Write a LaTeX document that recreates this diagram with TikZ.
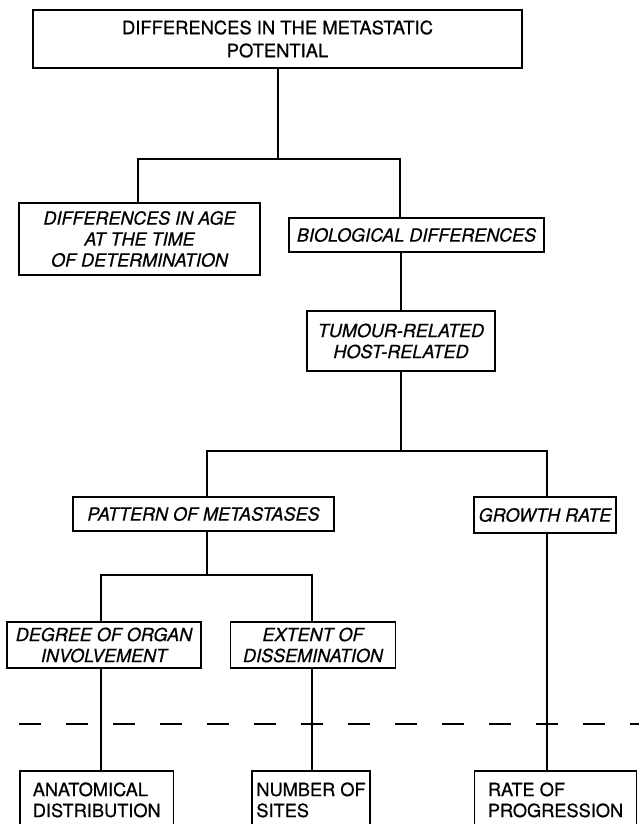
\documentclass[tikz,border=0pt]{standalone}
\usepackage{fontspec}
\setmainfont{TeX Gyre Heros}[FakeBold=0.6]
\tikzset{
  box/.style={draw, line width=1.8pt, inner sep=0pt, align=center},
  ital/.style={font=\fontsize{18}{21}\selectfont\itshape},
  upr/.style={font=\fontsize{18.4}{23}\selectfont},
  btm/.style={draw, line width=1.8pt, inner sep=0pt, align=left, anchor=north,
              font=\fontsize{18.2}{21}\selectfont},
  conn/.style={line width=1.8pt},
  dashline/.style={line width=1.8pt, dash pattern=on 22pt off 25pt},
}
\begin{document}
\begin{tikzpicture}[x=1pt,y=-1pt]
\useasboundingbox[fill=white] (0,0) rectangle (638,824);

% boxes
\node[box,upr,minimum width=489pt,minimum height=58pt] (top) at (277.5,39)
  {DIFFERENCES IN THE METASTATIC\\POTENTIAL};
\node[box,ital,minimum width=241pt,minimum height=72pt] (age) at (139.5,239)
  {DIFFERENCES IN AGE\\AT THE TIME\\OF DETERMINATION};
\node[box,ital,minimum width=255pt,minimum height=34pt] (bio) at (416.5,235)
  {BIOLOGICAL DIFFERENCES};
\node[box,ital,minimum width=188pt,minimum height=60pt] (tum) at (401,341)
  {TUMOUR-RELATED\\HOST-RELATED};
\node[box,ital,minimum width=261pt,minimum height=34pt] (pat) at (203.5,514)
  {PATTERN OF METASTASES};
\node[box,ital,minimum width=142pt,minimum height=36pt] (gro) at (545,515)
  {GROWTH RATE};
\node[box,ital,minimum width=194pt,minimum height=46pt] (deg) at (104,645)
  {DEGREE OF ORGAN\\INVOLVEMENT};
\node[box,ital,minimum width=165pt,minimum height=46pt] (ext) at (313,645)
  {EXTENT OF\\DISSEMINATION};
\node[btm,minimum width=153.5pt,minimum height=58pt] (ana) at (96.75,770)
  {ANATOMICAL\\DISTRIBUTION};
\node[btm,minimum width=118pt,minimum height=58pt] (num) at (311,770)
  {NUMBER OF\\SITES};
\node[btm,minimum width=162pt,minimum height=58pt] (rat) at (555.5,770)
  {RATE OF\\PROGRESSION};

% junction coordinates
\coordinate (j1) at (278,159);
\coordinate (j1L) at (138,159);
\coordinate (j1R) at (400,159);
\coordinate (j2) at (401,451);
\coordinate (j2L) at (207,451);
\coordinate (j2R) at (547,451);
\coordinate (j3) at (207,575);
\coordinate (j3L) at (101,575);
\coordinate (j3R) at (312,575);
\coordinate (dA) at (19,724);
\coordinate (dB) at (640,724);

% connectors
\draw[conn] (top.south -| j1) -- (j1);
\draw[conn] (age.north -| j1L) -- (j1L) -- (j1R) -- (bio.north -| j1R);
\draw[conn] (bio.south -| tum.north) -- (tum.north);
\draw[conn] (tum.south -| j2) -- (j2);
\draw[conn] (pat.north -| j2L) -- (j2L) -- (j2R) -- (gro.north -| j2R);
\draw[conn] (pat.south -| j3) -- (j3);
\draw[conn] (deg.north -| j3L) -- (j3L) -- (j3R) -- (ext.north -| j3R);
\draw[conn] (deg.south -| j3L) -- (ana.north -| j3L);
\draw[conn] (ext.south -| j3R) -- (num.north -| j3R);
\draw[conn] (gro.south -| j2R) -- (rat.north -| j2R);

% dashed separator
\draw[dashline] (dA) -- (dB);
\end{tikzpicture}
\end{document}
